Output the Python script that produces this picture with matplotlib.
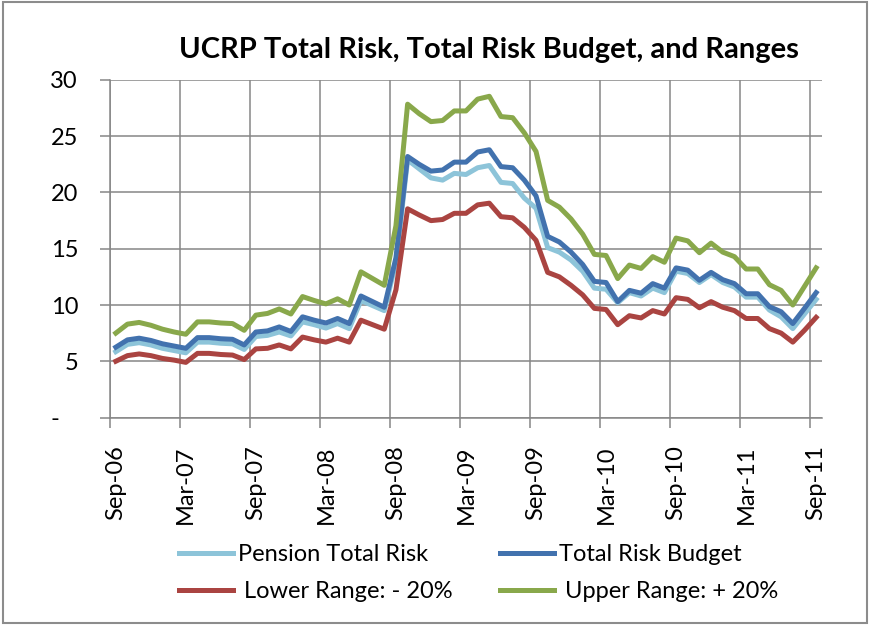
import numpy as np
import matplotlib
matplotlib.use('Agg')
import matplotlib.pyplot as plt
from matplotlib.patches import Rectangle

plt.rcParams['font.family'] = ['Lato', 'DejaVu Sans']

# monthly, Sep-06 .. Sep-11
months = ['Sep-06', 'Oct-06', 'Nov-06', 'Dec-06', 'Jan-07', 'Feb-07',
          'Mar-07', 'Apr-07', 'May-07', 'Jun-07', 'Jul-07', 'Aug-07',
          'Sep-07', 'Oct-07', 'Nov-07', 'Dec-07', 'Jan-08', 'Feb-08',
          'Mar-08', 'Apr-08', 'May-08', 'Jun-08', 'Jul-08', 'Aug-08',
          'Sep-08', 'Oct-08', 'Nov-08', 'Dec-08', 'Jan-09', 'Feb-09',
          'Mar-09', 'Apr-09', 'May-09', 'Jun-09', 'Jul-09', 'Aug-09',
          'Sep-09', 'Oct-09', 'Nov-09', 'Dec-09', 'Jan-10', 'Feb-10',
          'Mar-10', 'Apr-10', 'May-10', 'Jun-10', 'Jul-10', 'Aug-10',
          'Sep-10', 'Oct-10', 'Nov-10', 'Dec-10', 'Jan-11', 'Feb-11',
          'Mar-11', 'Apr-11', 'May-11', 'Jun-11', 'Jul-11', 'Aug-11',
          'Sep-11']

pension = [5.85, 6.5, 6.65, 6.45, 6.15, 5.95, 5.75, 6.7, 6.7, 6.6, 6.55, 6.05,
           7.2, 7.3, 7.6, 7.25, 8.5, 8.25, 7.95, 8.35, 7.9, 10.4, 9.95, 9.5,
           13.8, 22.9, 22.1, 21.3, 21.1, 21.7, 21.6, 22.2, 22.4, 20.9, 20.8, 19.5,
           18.6, 15.1, 14.7, 14.0, 13.0, 11.5, 11.4, 10.2, 11.1, 10.8, 11.5, 11.1,
           13.0, 12.8, 12.0, 12.7, 12.0, 11.6, 10.7, 10.7, 9.55, 8.95, 7.9, 9.2,
           10.5]

budget = [6.25, 6.9, 7.05, 6.85, 6.55, 6.35, 6.15, 7.1, 7.1, 7.0, 6.95, 6.45,
          7.6, 7.7, 8.05, 7.65, 8.95, 8.65, 8.4, 8.8, 8.35, 10.8, 10.3, 9.8,
          14.2, 23.2, 22.5, 21.9, 22.0, 22.7, 22.7, 23.6, 23.8, 22.3, 22.2, 21.1,
          19.7, 16.1, 15.6, 14.7, 13.6, 12.1, 12.0, 10.3, 11.3, 11.05, 11.9, 11.5,
          13.3, 13.1, 12.2, 12.9, 12.25, 11.9, 11.0, 11.0, 9.85, 9.4, 8.35, 9.7,
          11.1]

lower = [5.0, 5.5, 5.65, 5.5, 5.25, 5.1, 4.9, 5.7, 5.7, 5.6, 5.55, 5.15,
         6.1, 6.15, 6.45, 6.1, 7.15, 6.9, 6.7, 7.05, 6.7, 8.65, 8.25, 7.85,
         11.35, 18.55, 18.0, 17.5, 17.6, 18.15, 18.15, 18.9, 19.05, 17.85, 17.75, 16.9,
         15.75, 12.9, 12.5, 11.75, 10.9, 9.7, 9.6, 8.25, 9.05, 8.85, 9.5, 9.2,
         10.65, 10.5, 9.75, 10.3, 9.8, 9.5, 8.8, 8.8, 7.9, 7.5, 6.7, 7.75,
         8.9]

upper = [7.5, 8.3, 8.45, 8.2, 7.85, 7.6, 7.4, 8.5, 8.5, 8.4, 8.35, 7.75,
         9.1, 9.25, 9.65, 9.2, 10.75, 10.4, 10.1, 10.55, 10.0, 12.95, 12.35, 11.75,
         17.05, 27.85, 27.0, 26.3, 26.4, 27.25, 27.25, 28.3, 28.55, 26.75, 26.65, 25.3,
         23.65, 19.3, 18.7, 17.65, 16.3, 14.5, 14.4, 12.35, 13.55, 13.25, 14.3, 13.8,
         15.95, 15.7, 14.65, 15.5, 14.7, 14.3, 13.2, 13.2, 11.8, 11.3, 10.0, 11.65,
         13.3]

yticks = [0, 5, 10, 15, 20, 25, 30]
ytick_labels = ['-   ', '5', '10', '15', '20', '25', '30']

grid_col = '#868686'
x = np.arange(len(months))

fig = plt.figure(figsize=(8.7, 6.25), dpi=100)
ax = fig.add_axes([0.1264, 0.332, 0.8184, 0.540])

lw = 3.6
l1, = ax.plot(x, pension, color='#8DC4D9', lw=lw, label='Pension Total Risk', zorder=3)
l2, = ax.plot(x, budget, color='#4272AE', lw=lw, label='Total Risk Budget', zorder=4)
l3, = ax.plot(x, lower, color='#AA4441', lw=lw, label=' Lower Range: - 20%', zorder=5)
l4, = ax.plot(x, upper, color='#89A84B', lw=lw, label=' Upper Range: + 20%', zorder=6)

ax.set_xlim(-0.5, len(months) - 0.5)
ax.set_ylim(0, 30)

# gridlines on category boundaries, labels on category centres
ax.set_xticks(np.arange(-0.5, len(months), 6))
ax.set_xticklabels([])
ax.set_xticks(x[::6], minor=True)
ax.set_xticklabels(months[::6], minor=True, rotation=90, fontsize=17)
ax.tick_params(axis='x', which='major', length=7, width=1.1, color=grid_col, direction='out')
ax.tick_params(axis='x', which='minor', length=0, pad=20)

ax.set_yticks(yticks)
ax.set_yticklabels(ytick_labels, fontsize=17)
ax.tick_params(axis='y', length=7, width=1.1, color=grid_col, pad=16)

ax.grid(True, which='major', color=grid_col, lw=1.1, zorder=0)
ax.set_axisbelow(True)
for s in ['top', 'right']:
    ax.spines[s].set_visible(False)
for s in ['left', 'bottom']:
    ax.spines[s].set_color(grid_col)
    ax.spines[s].set_linewidth(1.1)

fig.text(0.562, 0.92, 'UCRP Total Risk, Total Risk Budget, and Ranges',
         ha='center', va='center', fontsize=21, fontweight='bold')

fig.legend([l1, l3, l2, l4], [l1.get_label(), l3.get_label(), l2.get_label(), l4.get_label()],
           ncol=2, loc='center', bbox_to_anchor=(0.55, 0.083), frameon=False,
           fontsize=17, handlelength=2.3, handletextpad=0.2, columnspacing=2.0,
           labelspacing=0.7)

fig.patches.append(Rectangle((0.003, 0.003), 0.994, 0.994, transform=fig.transFigure,
                             fill=False, edgecolor='#8c8c8c', lw=1.5))

plt.savefig('out.png', dpi=100)
